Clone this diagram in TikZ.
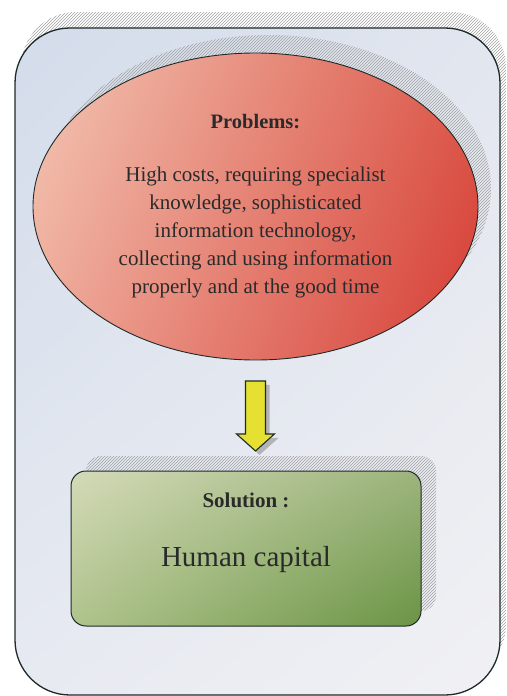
\documentclass[tikz,border=0pt]{standalone}
\usepackage{fontspec}
\setmainfont{Liberation Serif}
\usetikzlibrary{shapes.geometric,shadows,patterns,calc,shadings}
\definecolor{txt}{HTML}{2A2A2A}
\definecolor{edge}{HTML}{1E2A28}
\definecolor{hatch}{HTML}{A2A2A2}
\definecolor{arrowfill}{HTML}{E6E032}
\definecolor{frUL}{HTML}{D3DCEB}
\definecolor{frUR}{HTML}{E2E6EF}
\definecolor{frLL}{HTML}{E7EAF1}
\definecolor{frLR}{HTML}{F1F1F4}
\definecolor{elUL}{HTML}{F3C6B4}
\definecolor{elUR}{HTML}{DC5A4C}
\definecolor{elLL}{HTML}{EEA898}
\definecolor{elLR}{HTML}{D63C34}
\definecolor{bxUL}{HTML}{D4DAB8}
\definecolor{bxUR}{HTML}{9CB47C}
\definecolor{bxLL}{HTML}{AFC38C}
\definecolor{bxLR}{HTML}{6A9444}
\tikzset{
  hatchshadow/.style 2 args={general shadow={shadow xshift=#1, shadow yshift=#2,
      pattern=north east lines, pattern color=hatch}},
  framebox/.style={draw=edge, line width=1.3pt, rounded corners=55pt,
      minimum width=485pt, minimum height=667pt, inner sep=0pt,
      upper left=frUL, upper right=frUR, lower left=frLL, lower right=frLR,
      hatchshadow={6pt}{16pt}},
  probell/.style={ellipse, draw=edge, line width=0.9pt,
      minimum width=445pt, minimum height=307pt, inner sep=0pt,
      upper left=elUL, upper right=elUR, lower left=elLL, lower right=elLR,
      hatchshadow={13pt}{18pt}, align=center, text=txt,
      font=\fontsize{21}{28}\selectfont},
  solbox/.style={draw=edge, line width=1pt, rounded corners=15pt,
      minimum width=350pt, minimum height=155pt, inner sep=0pt,
      upper left=bxUL, upper right=bxUR, lower left=bxLL, lower right=bxLR,
      hatchshadow={15pt}{15pt}},
  boxtext/.style={text=txt, inner sep=0pt},
  blockarrow/.style={draw=edge, line width=1.1pt, fill=arrowfill, line join=miter,
      drop shadow={shadow xshift=4pt, shadow yshift=-4pt, fill=gray!70, opacity=0.8}}
}
\begin{document}
\begin{tikzpicture}[x=1pt,y=1pt]
\useasboundingbox (0,0) rectangle (506,-696);
\node[framebox] (frame) at (257.5,-361.5) {};
\node[probell] (prob) at (255.5,-206.5)
  {{\fontsize{20.5}{28}\selectfont\bfseries Problems:}\\[25pt]
   High costs, requiring specialist\\
   knowledge, sophisticated\\
   information technology,\\
   collecting and using information\\
   properly and at the good time};
\node[solbox] (sol) at (246,-548.5) {};
\node[boxtext, font=\fontsize{21}{25}\selectfont\bfseries] (soltitle)
  at ($(sol.center)+(0,48.5)$) {Solution :};
\node[boxtext, font=\fontsize{29}{34}\selectfont] (solbody)
  at ($(sol.center)+(0,-11.5)$) {Human capital};
\coordinate (at) at ($(prob.south)+(0,-20.5)$);
\coordinate (ab) at ($(at)+(0,-70)$);
\draw[blockarrow] ($(at)+(-10,0)$) -- ($(at)+(10,0)$) -- ($(ab)+(10,17)$)
  -- ($(ab)+(19,17)$) -- (ab) -- ($(ab)+(-19,17)$) -- ($(ab)+(-10,17)$) -- cycle;
\end{tikzpicture}
\end{document}
